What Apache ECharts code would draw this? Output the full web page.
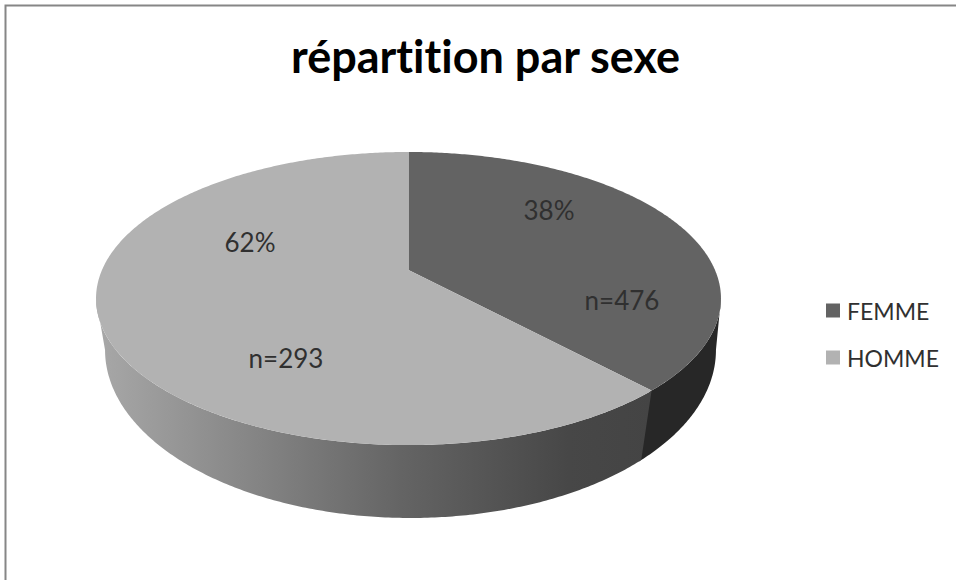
<!DOCTYPE html>
<html><head><meta charset="utf-8">
<style>html,body{margin:0;padding:0;background:#fff}#c{width:956px;height:580px}
svg text{font-variant-ligatures:none}</style>
<script src="https://cdn.jsdelivr.net/npm/echarts@6/dist/echarts.min.js"></script>
</head><body><div id="c"></div>
<script>
const titleText = 'répartition par sexe';
const categories = ['FEMME', 'HOMME'];
const percents = [38.1, 61.9];
const counts = [476, 293];
const topColors = ['#636363', '#b2b2b2'];

// Perspective projection of the pie disc (top face and bottom rim)
const TOP = { cx: 408.5, cy: 270, sx: 306.5, sy: 141, k: 0.1946 };
const BOTTOM = { cx: 410.5, cy: 324.8, sx: 302, sy: 164.2, k: 0.15 };
const rightEdge = d => Math.acos(-d.k);
const leftEdge = d => 2 * Math.PI - rightEdge(d);
const LABEL_POS = {
  percent: [[549, 210], [250, 242]],
  count: [[622, 300], [286, 358]]
};
const total = percents.reduce((a, b) => a + b, 0);
function proj(d, t) {
  const u = Math.sin(t), v = Math.cos(t), w = 1 + d.k * v;
  return [d.cx + u * d.sx / w, d.cy - v * d.sy / w];
}
function arc(d, a, b) {
  const n = Math.max(2, Math.ceil(Math.abs(b - a) / 0.01)), pts = [];
  for (let i = 0; i <= n; i++) pts.push(proj(d, a + (b - a) * i / n));
  return pts;
}
function wall(topA, topB, botA, botB, fill) {
  return { type: 'polygon', z2: 1, silent: true,
    shape: { points: arc(TOP, topA, topB).concat(arc(BOTTOM, botB, botA)) },
    style: { fill: fill } };
}
const homeWallFill = new echarts.graphic.LinearGradient(0, 0, 1, 0, [
  { offset: 0, color: '#a8a8a8' },
  { offset: 0.55, color: '#646464' },
  { offset: 0.85, color: '#474747' },
  { offset: 1, color: '#444444' }
]);
function makeRender(idx) {
  return function (params, api) {
    let before = 0;
    for (let i = 0; i < idx; i++) before += percents[i];
    const a = before / total * 2 * Math.PI;
    const b = a + api.value(0) / total * 2 * Math.PI;
    const children = [];
    if (idx === 0) children.push(wall(rightEdge(TOP), b + 0.01, rightEdge(BOTTOM), b + 0.01, '#272727'));
    else children.push(wall(a, leftEdge(TOP), a, leftEdge(BOTTOM), homeWallFill));
    children.push({ type: 'polygon', z2: 2,
      shape: { points: [[TOP.cx, TOP.cy]].concat(arc(TOP, a, b)) },
      style: { fill: api.visual('color') } });
    const text = (s, p) => ({ type: 'text', z2: 3, silent: true,
      style: { text: s, x: p[0], y: p[1], align: 'center', verticalAlign: 'middle',
        font: '26px Lato', fill: '#303030' } });
    children.push(text(Math.round(percents[idx]) + '%', LABEL_POS.percent[idx]));
    children.push(text('n=' + counts[idx], LABEL_POS.count[idx]));
    return { type: 'group', children };
  };
}
const chart = echarts.init(document.getElementById('c'), null, { renderer: 'svg' });
chart.setOption({
  animation: false,
  backgroundColor: '#ffffff',
  title: { text: titleText, left: 485.5, top: 33, textAlign: 'center', padding: 0,
    textStyle: { fontFamily: 'Lato', fontWeight: 'bold', fontSize: 45, color: '#000000' } },
  legend: { orient: 'vertical', left: 826, top: 299, padding: 0, itemWidth: 14, itemHeight: 14, itemGap: 24,
    icon: 'rect', data: categories, selectedMode: false,
    textStyle: { fontFamily: 'Lato', fontSize: 23, color: '#303030', padding: [0, 0, 0, 2] } },
  graphic: [{ type: 'polyline', silent: true,
    shape: { points: [[5.5, 580], [5.5, 5.5], [956, 5.5]] },
    style: { stroke: '#868686', lineWidth: 2, fill: null } }],
  series: categories.map((name, i) => ({
    type: 'custom', name, coordinateSystem: 'none',
    itemStyle: { color: topColors[i] },
    data: [[percents[i]]],
    renderItem: makeRender(i)
  }))
});
</script></body></html>
